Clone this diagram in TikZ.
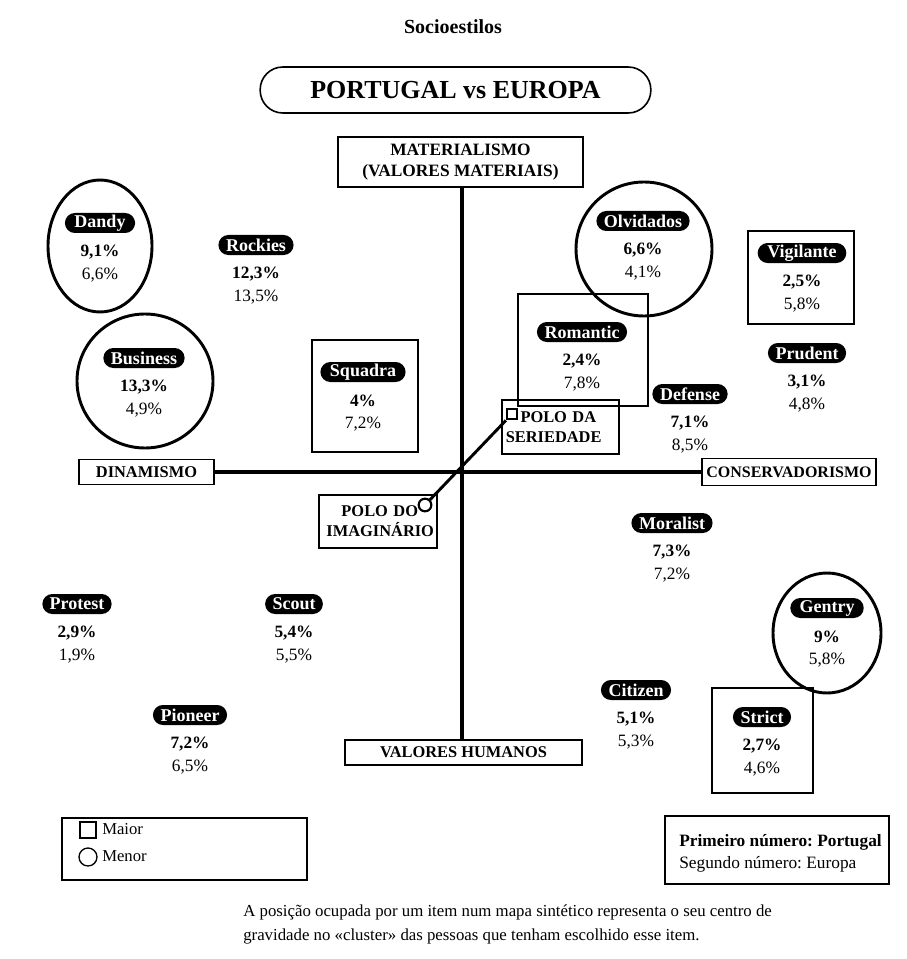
\documentclass[tikz,border=0pt]{standalone}
\usepackage{fontspec}
\setmainfont{Liberation Serif}
\usetikzlibrary{shapes.geometric,shapes.misc}
\frenchspacing

% one style cluster: black pill label, bold first share, regular second share
\newcommand{\segment}[4]{%
  \node[pill] (#1) at (#2) {#1};
  \path (#2) ++(0,29) node[pctA] (#1-pt) {#3} ++(0,23) node[pctB] (#1-eu) {#4};
}

\begin{document}
\begin{tikzpicture}[x=0.75pt,y=-0.75pt,
  pill/.style={shape=rounded rectangle, fill=black, text=white,
    font=\bfseries\fontsize{13.5}{14}\selectfont, inner xsep=4pt, inner ysep=0pt,
    minimum height=15pt},
  pctA/.style={font=\bfseries\fontsize{13}{14}\selectfont, inner sep=0pt, anchor=center},
  pctB/.style={font=\fontsize{13}{14}\selectfont, inner sep=0pt, anchor=center},
  axisbox/.style={draw, line width=1.2pt, font=\bfseries\fontsize{12.3}{15}\selectfont,
    align=center, inner sep=0pt},
  markbox/.style={draw, line width=2.2pt},
  axisline/.style={line width=2.4pt}]

% page
\fill[white] (0,0) rectangle (906,959);
\useasboundingbox (0,0) rectangle (906,959);

% titles
\node[font=\bfseries\fontsize{15}{16}\selectfont] (title) at (453,27) {Socioestilos};
\node[draw, line width=1.2pt, rounded corners=17pt, minimum width=293pt, minimum height=34.5pt,
  font=\bfseries\fontsize{19.5}{22}\selectfont] (head) at (455.5,90) {PORTUGAL vs EUROPA};

% axis labels
\node[axisbox, minimum width=183.75pt, minimum height=37.5pt, font=\bfseries\fontsize{13}{16}\selectfont]
  (mat) at (460.5,162) {MATERIALISMO\\(VALORES MATERIAIS)};
\node[axisbox, minimum width=177.75pt, minimum height=18.75pt] (hum) at (463.5,752.5) {VALORES HUMANOS};
\node[axisbox, minimum width=101.25pt, minimum height=18.75pt] (din) at (146.5,472) {DINAMISMO};
\node[axisbox, minimum width=130.5pt, minimum height=20.25pt, font=\bfseries\fontsize{12}{15}\selectfont]
  (con) at (789,472) {CONSERVADORISMO};

\coordinate (top) at (462,187);
\draw[axisline] (mat.south -| top) -- (hum.north -| top);
\draw[axisline] (din.east) -- (con.west);

% the two poles
\node[axisbox, minimum width=88.5pt, minimum height=39.75pt, align=right, text width=84pt]
  (imag) at (378,521.5) {POLO DO\rule{12pt}{0pt}\\IMAGINÁRIO};
\node[axisbox, minimum width=87.75pt, minimum height=40.5pt, align=left, text width=82pt]
  (seri) at (560.5,427) {\rule{11pt}{0pt}POLO DA\\SERIEDADE};
\node[circle, draw, line width=1.6pt, minimum size=9.5pt, inner sep=0pt, fill=white] (ci) at (425,505) {};
\node[rectangle, draw, line width=1.6pt, minimum size=8pt, inner sep=0pt, fill=white] (sq) at (512,414) {};
\draw[line width=2.2pt] (ci) -- (sq);

% markers: larger (square) and smaller (circle) in Portugal
\draw[markbox] (312,340) rectangle (418,452);
\draw[markbox] (748,231) rectangle (854,324);
\draw[markbox] (518,294) rectangle (648,406);
\draw[markbox] (712,688) rectangle (813,793);
\draw[markbox] (100,246) ellipse (52 and 66);
\draw[markbox] (145,381) ellipse (68 and 67);
\draw[markbox] (644,249) ellipse (68 and 67);
\draw[markbox] (827,633) ellipse (54 and 60);

% clusters
\segment{Dandy}{100,223}{9,1\%}{6,6\%}
\segment{Rockies}{256,245}{12,3\%}{13,5\%}
\segment{Business}{144,358}{13,3\%}{4,9\%}
\segment{Squadra}{363,372}{4\%}{7,2\%}
\segment{Olvidados}{643,221}{6,6\%}{4,1\%}
\segment{Vigilante}{802,253}{2,5\%}{5,8\%}
\segment{Romantic}{582,332}{2,4\%}{7,8\%}
\segment{Prudent}{807,353}{3,1\%}{4,8\%}
\segment{Defense}{690,394}{7,1\%}{8,5\%}
\segment{Moralist}{672,523}{7,3\%}{7,2\%}
\segment{Gentry}{827,608}{9\%}{5,8\%}
\segment{Citizen}{636,690}{5,1\%}{5,3\%}
\segment{Strict}{762,717}{2,7\%}{4,6\%}
\segment{Protest}{77,604}{2,9\%}{1,9\%}
\segment{Scout}{294,604}{5,4\%}{5,5\%}
\segment{Pioneer}{190,715}{7,2\%}{6,5\%}

% legends
\node[draw, line width=1pt, minimum width=183.75pt, minimum height=46.5pt] (leg) at (184.5,849) {};
\node[draw, line width=1pt, minimum size=12pt, inner sep=0pt] (lsq) at (88,830) {};
\node[circle, draw, line width=1pt, minimum size=13.5pt, inner sep=0pt] (lci) at (88,857) {};
\node[anchor=west, font=\fontsize{12.5}{13}\selectfont, inner sep=0pt] (lmaior) at (102,829) {Maior};
\node[anchor=west, font=\fontsize{12.5}{13}\selectfont, inner sep=0pt] (lmenor) at (102,856) {Menor};

\node[draw, line width=1pt, minimum width=168pt, minimum height=51pt] (key) at (777,850) {};
\node[anchor=west, font=\bfseries\fontsize{13}{14}\selectfont, inner sep=0pt] (k1) at (679,842) {Primeiro número: Portugal};
\node[anchor=west, font=\fontsize{13}{14}\selectfont, inner sep=0pt] (k2) at (679,864) {Segundo número: Europa};

% footnote
\node[anchor=north west, align=left, font=\fontsize{12.6}{18}\selectfont, inner sep=0pt] (note) at (243,905)
  {A posição ocupada por um item num mapa sintético representa o seu centro de\\
   gravidade no «cluster» das pessoas que tenham escolhido esse item.};
\end{tikzpicture}
\end{document}
